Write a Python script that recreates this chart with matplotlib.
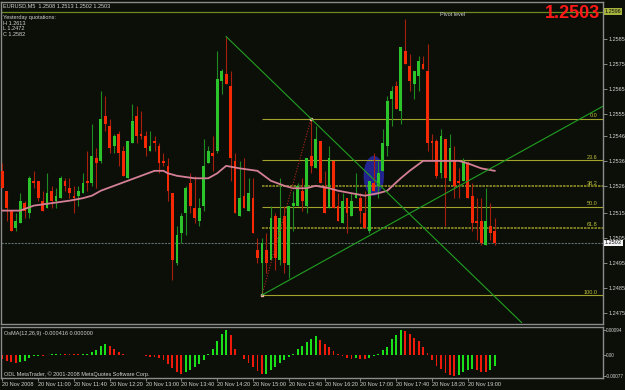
import numpy as np
import matplotlib.pyplot as plt
from matplotlib.patches import Ellipse

# EURUSD M5, 20 Nov 2008, 10:20 .. 19:30  (open, high, low, close)
opens = [1.2532, 1.2524, 1.2516, 1.2509, 1.2511, 1.2519, 1.2515, 1.2528, 1.2528, 1.2520,
         1.2517, 1.2524, 1.2520, 1.2521, 1.2528, 1.2525, 1.2522, 1.2522, 1.2523, 1.2528,
         1.2527, 1.2537, 1.2536, 1.2554, 1.2550, 1.2542, 1.2547, 1.2540, 1.2529, 1.2543,
         1.2554, 1.2547, 1.2546, 1.2540, 1.2544, 1.2542, 1.2536, 1.2534, 1.2523, 1.2495,
         1.2507, 1.2515, 1.2527, 1.2517, 1.2512, 1.2518, 1.2535, 1.2539, 1.2540, 1.2568,
         1.2571, 1.2566, 1.2536, 1.2514, 1.2522, 1.2516, 1.2521, 1.2500, 1.2495, 1.2500,
         1.2496, 1.2514, 1.2496, 1.2514, 1.2494, 1.2518, 1.2518, 1.2524, 1.2518, 1.2538,
         1.2533, 1.2544, 1.2526, 1.2517, 1.2536, 1.2518, 1.2511, 1.2521, 1.2514, 1.2521,
         1.2521, 1.2515, 1.2508, 1.2527, 1.2526, 1.2532, 1.2542, 1.2561, 1.2566, 1.2556,
         1.2580, 1.2574, 1.2567, 1.2570, 1.2575, 1.2572, 1.2544, 1.2544, 1.2531, 1.2545,
         1.2528, 1.2536, 1.2528, 1.2528, 1.2535, 1.2522, 1.2512, 1.2512, 1.2502, 1.2510,
         1.2508]
highs = [1.2535, 1.2524, 1.2516, 1.2515, 1.2523, 1.2520, 1.2530, 1.2532, 1.2528, 1.2524,
         1.2531, 1.2526, 1.2525, 1.2530, 1.2529, 1.2529, 1.2526, 1.2526, 1.2531, 1.2540,
         1.2551, 1.2541, 1.2564, 1.2562, 1.2553, 1.2547, 1.2548, 1.2542, 1.2544, 1.2559,
         1.2558, 1.2556, 1.2548, 1.2548, 1.2546, 1.2543, 1.2539, 1.2537, 1.2523, 1.2510,
         1.2515, 1.2526, 1.2531, 1.2530, 1.2521, 1.2545, 1.2542, 1.2546, 1.2580, 1.2573,
         1.2586, 1.2572, 1.2539, 1.2536, 1.2537, 1.2529, 1.2529, 1.2505, 1.2505, 1.2507,
         1.2518, 1.2515, 1.2529, 1.2518, 1.2518, 1.2524, 1.2527, 1.2529, 1.2537, 1.2553,
         1.2550, 1.2544, 1.2532, 1.2542, 1.2536, 1.2523, 1.2523, 1.2521, 1.2523, 1.2531,
         1.2523, 1.2524, 1.2528, 1.2539, 1.2536, 1.2549, 1.2562, 1.2566, 1.2568, 1.2582,
         1.2593, 1.2579, 1.2572, 1.2578, 1.2578, 1.2583, 1.2547, 1.2545, 1.2549, 1.2545,
         1.2547, 1.2542, 1.2533, 1.2537, 1.2536, 1.2527, 1.2521, 1.2521, 1.2525, 1.2519,
         1.2513]
lows = [1.2525, 1.2512, 1.2508, 1.2508, 1.2511, 1.2513, 1.2513, 1.2525, 1.2520, 1.2516,
        1.2517, 1.2517, 1.2517, 1.2521, 1.2524, 1.2521, 1.2515, 1.2518, 1.2523, 1.2524,
        1.2526, 1.2525, 1.2535, 1.2548, 1.2539, 1.2539, 1.2534, 1.2530, 1.2529, 1.2543,
        1.2543, 1.2545, 1.2538, 1.2540, 1.2540, 1.2531, 1.2534, 1.2520, 1.2488, 1.2494,
        1.2503, 1.2506, 1.2515, 1.2511, 1.2510, 1.2516, 1.2535, 1.2532, 1.2539, 1.2563,
        1.2567, 1.2528, 1.2515, 1.2514, 1.2517, 1.2516, 1.2507, 1.2495, 1.2482, 1.2491,
        1.2496, 1.2492, 1.2494, 1.2491, 1.2489, 1.2508, 1.2518, 1.2516, 1.2515, 1.2531,
        1.2533, 1.2527, 1.2515, 1.2517, 1.2517, 1.2512, 1.2511, 1.2507, 1.2514, 1.2521,
        1.2511, 1.2509, 1.2507, 1.2524, 1.2521, 1.2532, 1.2538, 1.2550, 1.2557, 1.2551,
        1.2575, 1.2564, 1.2561, 1.2564, 1.2573, 1.2540, 1.2536, 1.2529, 1.2529, 1.2510,
        1.2528, 1.2521, 1.2521, 1.2528, 1.2521, 1.2508, 1.2504, 1.2502, 1.2502, 1.2504,
        1.2502]
closes = [1.2525, 1.2517, 1.2508, 1.2512, 1.2520, 1.2516, 1.2529, 1.2527, 1.2521, 1.2516,
          1.2523, 1.2520, 1.2522, 1.2529, 1.2526, 1.2523, 1.2521, 1.2524, 1.2527, 1.2527,
          1.2538, 1.2535, 1.2553, 1.2551, 1.2541, 1.2546, 1.2539, 1.2530, 1.2544, 1.2552,
          1.2546, 1.2546, 1.2541, 1.2542, 1.2543, 1.2535, 1.2535, 1.2524, 1.2496, 1.2506,
          1.2514, 1.2525, 1.2518, 1.2513, 1.2517, 1.2534, 1.2540, 1.2538, 1.2569, 1.2572,
          1.2567, 1.2537, 1.2515, 1.2521, 1.2517, 1.2523, 1.2507, 1.2497, 1.2503, 1.2495,
          1.2513, 1.2497, 1.2513, 1.2495, 1.2518, 1.2519, 1.2526, 1.2520, 1.2537, 1.2534,
          1.2545, 1.2527, 1.2515, 1.2537, 1.2517, 1.2512, 1.2520, 1.2515, 1.2520, 1.2523,
          1.2516, 1.2509, 1.2528, 1.2524, 1.2531, 1.2543, 1.2560, 1.2564, 1.2557, 1.2582,
          1.2575, 1.2568, 1.2572, 1.2576, 1.2573, 1.2543, 1.2543, 1.2530, 1.2546, 1.2529,
          1.2541, 1.2526, 1.2527, 1.2536, 1.2521, 1.2511, 1.2511, 1.2503, 1.2512, 1.2507,
          1.2503]

# moving average (bar index, price)
ma_bar = [0, 4, 7, 11, 15, 18, 20, 22, 25, 28, 31, 34, 36, 37, 39, 43, 46, 48, 50, 53,
          57, 60, 63, 65, 68, 70, 73, 75, 78, 81, 84, 86, 89, 91, 94, 96, 99, 102, 104, 107, 110]
ma_val = [1.2516, 1.2516, 1.2518, 1.2519, 1.2520, 1.2521, 1.2522, 1.2524, 1.2526, 1.2528,
          1.2530, 1.2532, 1.2532, 1.2531, 1.2530, 1.2529, 1.2529, 1.2531, 1.2534, 1.2533,
          1.2532, 1.2528, 1.2526, 1.2525, 1.2525, 1.2526, 1.2525, 1.2524, 1.2523, 1.2522,
          1.2523, 1.2524, 1.2529, 1.2532, 1.2536, 1.2536, 1.2536, 1.2536, 1.2535, 1.2533, 1.2532]

# OsMA(12,26,9) histogram
osma = [-0.00015, -0.00021, -0.00027, -0.00029, -0.00027, -0.00021, -0.00012, -0.00005, -0.00003, -0.00004,
        -0.00001, 0.00003, 0.00004, 0.00006, 0.00005, 0.00004, 0.00003, 0.00003, 0.00004, 0.00005,
        0.00013, 0.00021, 0.00033, 0.00042, 0.00036, 0.00025, 0.00012, 0.00005, 0.00001, 0.0,
        0.00001, -0.00001, -0.00004, -0.00006, -0.00008, -0.00011, -0.00018, -0.00032, -0.00050, -0.00064,
        -0.00070, -0.00063, -0.00054, -0.00044, -0.00035, -0.00020, 0.00005, 0.00025, 0.00055, 0.00078,
        0.00094, 0.00075, 0.00025, 0.0, -0.00015, -0.00028, -0.00044, -0.00060, -0.00072, -0.00070,
        -0.00057, -0.00046, -0.00029, -0.00018, -0.00007, 0.00006, 0.00022, 0.00034, 0.00048, 0.00062,
        0.00072, 0.00057, 0.00042, 0.00030, 0.00015, 0.00004, -0.00003, -0.00011, -0.00016, -0.00011,
        -0.00013, -0.00016, -0.00011, -0.00004, 0.00006, 0.00018, 0.00032, 0.00060, 0.00076, 0.00094,
        0.00090, 0.00078, 0.00066, 0.00052, 0.00030, 0.00008, -0.00018, -0.00039, -0.00053, -0.00066,
        -0.00074, -0.00077, -0.00074, -0.00064, -0.00057, -0.00052, -0.00057, -0.00062, -0.00064, -0.00057,
        -0.00042]

price_ticks = [1.2585, 1.2575, 1.2565, 1.2555, 1.2546, 1.2536, 1.2526, 1.2515, 1.2505, 1.2495, 1.2485, 1.2475]
time_ticks = [0, 8, 16, 24, 32, 40, 48, 56, 64, 72, 80, 88, 96, 104]
time_labels = ['20 Nov 2008', '20 Nov 11:00', '20 Nov 11:40', '20 Nov 12:20', '20 Nov 13:00',
               '20 Nov 13:40', '20 Nov 14:20', '20 Nov 15:00', '20 Nov 15:40', '20 Nov 16:20',
               '20 Nov 17:00', '20 Nov 17:40', '20 Nov 18:20', '20 Nov 19:00']
osma_ticks = [0.00094, 0.0, -0.00077]
osma_labels = ['0.00094', '0.00', '-0.00077']

pivot = 1.2596
fib_low_bar, fib_high_bar = 58, 69
fib_ratios = [0.0, 0.236, 0.382, 0.5, 0.618, 1.0]
fib_names = ['0.0', '23.6', '38.2', '50.0', '61.8', '100.0']
down_line = ([50, 116], [1.2586, 1.2471])
up_line = ([58, 134.2], [1.2482, 1.2558])

BG = '#0b0f08'
FG = '#d2d2d2'
BULL, BEAR = '#2bc42b', '#f52a05'
plt.rcParams['font.family'] = ['Liberation Sans', 'DejaVu Sans']

W, H = 625, 390
fig = plt.figure(figsize=(W / 100, H / 100), dpi=100, facecolor=BG)
ax = fig.add_axes([1 / W, 1 - 324 / H, 602 / W, 322 / H], facecolor=BG)
ax2 = fig.add_axes([1 / W, 1 - 378 / H, 602 / W, 51 / H], facecolor=BG, sharex=ax)

o, h, l, c = map(np.array, (opens, highs, lows, closes))
x = np.arange(len(o))
up = c >= o

# blue ellipse behind the bars
ax.add_patch(Ellipse((83, 1.2530), 4.6, 0.0016, facecolor='#22238c', edgecolor='none', zorder=1))

ax.vlines(x[up], l[up], h[up], color='#1f8a1f', lw=0.8, zorder=3)
ax.vlines(x[~up], l[~up], h[~up], color='#a8200c', lw=0.8, zorder=3)
body = np.maximum(np.abs(c - o), 0.00003)
ax.bar(x[up], body[up], 0.62, bottom=o[up], color=BULL, lw=0, zorder=4)
ax.bar(x[~up], body[~up], 0.62, bottom=c[~up], color=BEAR, lw=0, zorder=4)

ax.plot(ma_bar, ma_val, color='#d37f95', lw=1.3, zorder=5)

# fibonacci levels
lo, hi = l[fib_low_bar], h[fib_high_bar]
for r, name in zip(fib_ratios, fib_names):
    lev = hi - r * (hi - lo)
    dashed = name in ('38.2', '61.8')
    ax.hlines(lev, fib_low_bar, 134.2, color='#8f8e26' if dashed else '#a3a22c',
              lw=1.2 if dashed else 0.8,
              linestyles=(0, (1.5, 0.6)) if dashed else 'solid', zorder=2)
    ax.text(133.0, lev + 0.00002, name, color='#c2c23a', fontsize=4, ha='right', va='bottom')
ax.plot([fib_low_bar, fib_high_bar], [lo, hi], color='#b3261a', lw=0.8, ls=(0, (1, 1.5)), zorder=6)
ax.plot([fib_low_bar, fib_high_bar], [lo, hi], 's', color='#f0b0a0', ms=1.5, zorder=6)

ax.plot(*down_line, color='#21a021', lw=0.8, zorder=6)
ax.plot(*up_line, color='#21a021', lw=0.8, zorder=6)

ax.axhline(pivot, color='#6b8a22', lw=0.9, zorder=2)
ax.axhline(c[-1], color='#5f6d6d', lw=0.8, ls=(0, (2, 1)), zorder=2)
ax.text(100.5, pivot - 0.00003, 'Pivot level', color=FG, fontsize=4, ha='center', va='top')

ax.set_xlim(-0.3, 134.2)
ax.set_ylim(1.24704, 1.25999)
ax.yaxis.tick_right()
ax.set_yticks(price_ticks)
ax.set_yticklabels([f'{v:.4f}' for v in price_ticks])
ax.tick_params(axis='y', colors='#9a9a9a', labelcolor=FG, labelsize=4, length=3, width=0.6, pad=1)
ax.tick_params(axis='x', bottom=False, labelbottom=False)

# price labels on the right scale
ax.text(1.003, pivot, f'{pivot:.4f}', transform=ax.get_yaxis_transform(), fontsize=4, color='#101010',
        va='center', ha='left', bbox=dict(boxstyle='square,pad=0.15', fc='#a6b33c', ec='none'))
ax.text(1.003, c[-1], f'{c[-1]:.4f}', transform=ax.get_yaxis_transform(), fontsize=4, color='#101010',
        va='center', ha='left', bbox=dict(boxstyle='square,pad=0.15', fc='#f4f4f4', ec='none'))

for a in (ax, ax2):
    for s in a.spines.values():
        s.set_color('#8c8c8c')
        s.set_linewidth(1.0)

# OsMA panel
osma = np.array(osma)
rising = np.r_[False, np.diff(osma) > 0]
ax2.bar(x[rising], osma[rising], 0.42, color='#19e019', lw=0)
ax2.bar(x[~rising], osma[~rising], 0.42, color='#f01a0a', lw=0)
ax2.set_ylim(-0.00086, 0.00106)
ax2.yaxis.tick_right()
ax2.set_yticks(osma_ticks)
ax2.set_yticklabels(osma_labels)
ax2.tick_params(axis='y', colors='#9a9a9a', labelcolor=FG, labelsize=3.3, length=2, width=0.6, pad=0.3)
ax2.set_xticks(time_ticks)
ax2.set_xticklabels(time_labels, ha='left')
ax2.tick_params(axis='x', colors='#9a9a9a', labelcolor=FG, labelsize=4, length=2, width=0.6, pad=1)
ax2.text(0.005, 0.93, 'OsMA(12,26,9) -0.000416 0.000000', transform=ax2.transAxes,
         color=FG, fontsize=4, va='top')
ax2.text(0.005, 0.02, 'ODL MetaTrader, \u00a9 2001-2008 MetaQuotes Software Corp.', transform=ax2.transAxes,
         color=FG, fontsize=4, va='bottom')

# header texts
fig.text(3 / W, 1 - 6 / H, 'EURUSD,M5  1.2508 1.2513 1.2502 1.2503', color=FG, fontsize=4, va='center')
for i, s in enumerate(['Yesterday quotations:', 'H 1.2613', 'L 1.2472', 'C 1.2582']):
    fig.text(3 / W, 1 - (18 + 5.5 * i) / H, s, color=FG, fontsize=4, va='center')
fig.text(600 / W, 1 - 14 / H, '1.2503', color='#ff1a1a', fontsize=13, fontweight='bold',
         ha='right', va='center')

fig.savefig('out.png', dpi=100, facecolor=BG)
